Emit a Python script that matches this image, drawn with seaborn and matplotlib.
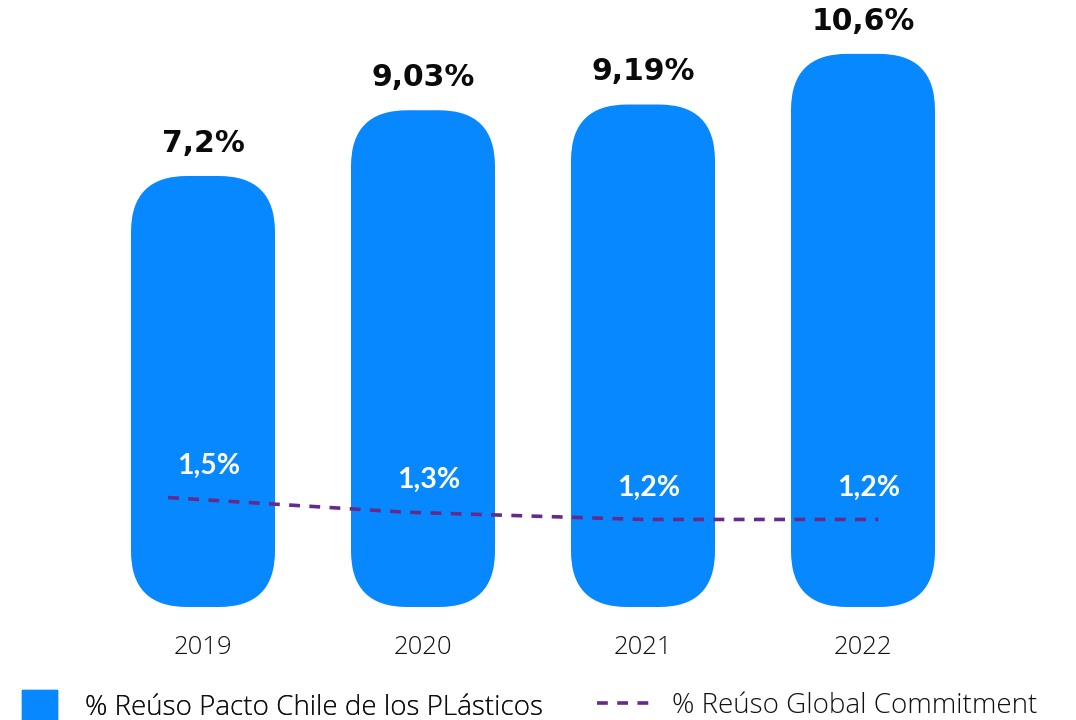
import matplotlib
matplotlib.use("Agg")
import matplotlib.pyplot as plt
from matplotlib.patches import FancyBboxPatch, Patch
from matplotlib.lines import Line2D
from matplotlib.transforms import blended_transform_factory
import seaborn as sns

# Data
years = ["2019", "2020", "2021", "2022"]
pacto_reuse = [7.2, 9.03, 9.19, 10.6]
global_reuse = [1.5, 1.3, 1.2, 1.2]
series_names = ["% Reúso Pacto Chile de los PLásticos", "% Reúso Global Commitment"]

BLUE = "#0788FE"
PURPLE = "#642A8C"
LIGHT_FONT = "Open Sans"
BOLD_FONT = "DejaVu Sans"
WHITE_FONT = "Lato"


def pct(v):
    return f"{v:g}".replace(".", ",") + "%"


sns.set_theme(style="white")
plt.rcParams["font.family"] = [LIGHT_FONT, "DejaVu Sans"]

W, H = 1076, 720
fig = plt.figure(figsize=(W / 100, H / 100), dpi=100)
rect = [93 / W, (H - 607) / H, 880 / W, 607 / H]

# Bars
ax = fig.add_axes(rect)
sns.barplot(x=years, y=pacto_reuse, ax=ax, color=BLUE, saturation=1,
            width=144 / 220)
ax.set_xlim(-0.5, 3.5)
ax.set_ylim(-4.8, 12.1)
ax.set_xlabel("")
ax.set_ylabel("")
ax.set_yticks([])
ax.tick_params(axis="x", length=0, pad=20, labelsize=18.5)
for lbl in ax.get_xticklabels():
    lbl.set_fontweight("light")
    lbl.set_color("#111111")
for s in ax.spines.values():
    s.set_visible(False)

# Replace the plain rectangles with rounded pills that reach the floor
px_x = 880 / (ax.get_xlim()[1] - ax.get_xlim()[0])
px_y = 607 / (ax.get_ylim()[1] - ax.get_ylim()[0])
aspect = px_x / px_y
radius_px = 56
ylo = ax.get_ylim()[0]
for p in list(ax.patches):
    x0, w, top = p.get_x(), p.get_width(), p.get_height()
    pill = FancyBboxPatch((x0, ylo), w, top - ylo,
                          boxstyle=f"round,pad=0,rounding_size={radius_px / px_x}",
                          mutation_aspect=aspect, fc=BLUE, ec="none", zorder=2)
    ax.add_patch(pill)
    p.set_visible(False)
    ax.annotate(pct(top), (x0 + w / 2, top), xytext=(0, 17.5),
                textcoords="offset points", ha="center", va="baseline",
                fontsize=21.5, fontweight="bold", color="#0a0a0a",
                family=[BOLD_FONT])

# Dashed line on its own overlay axes
ax2 = fig.add_axes(rect, facecolor="none")
sns.lineplot(x=years, y=global_reuse, ax=ax2, color=PURPLE, linewidth=2.6,
             linestyle=(0, (3, 2.6)), zorder=3)
ax2.set_xlim(-0.317, 3.40)
ax2.set_ylim(0, 8.32)
ax2.axis("off")

lab_tr = blended_transform_factory(ax.transData, ax2.transData)
for i, v in enumerate(global_reuse):
    ax.annotate(pct(v), (i, v), xycoords=lab_tr, xytext=(4, 23),
                textcoords="offset points", ha="center", va="center",
                fontsize=20.5, fontweight="bold", color="white", zorder=5,
                family=[WHITE_FONT, "DejaVu Sans"])

# Legend
leg1 = fig.legend(handles=[Patch(color=BLUE)], labels=[series_names[0]],
                  loc="center left", bbox_to_anchor=(22 / W, 1 - 706 / H),
                  frameon=False, fontsize=20, handlelength=1.26,
                  handleheight=1.25, handletextpad=1.0, borderpad=0,
                  borderaxespad=0)
leg2 = fig.legend(handles=[Line2D([], [], color=PURPLE, linewidth=2.6,
                                  linestyle=(0, (3, 2.6)))],
                  labels=[series_names[1]],
                  loc="center left", bbox_to_anchor=(597 / W, 1 - 706 / H),
                  frameon=False, fontsize=20, handlelength=1.9,
                  handletextpad=0.8, borderpad=0, borderaxespad=0)
for leg in (leg1, leg2):
    for t in leg.get_texts():
        t.set_fontweight("light")
        t.set_color("#111111")
fig.add_artist(leg1)

fig.savefig("out.png", dpi=100, facecolor="white")
